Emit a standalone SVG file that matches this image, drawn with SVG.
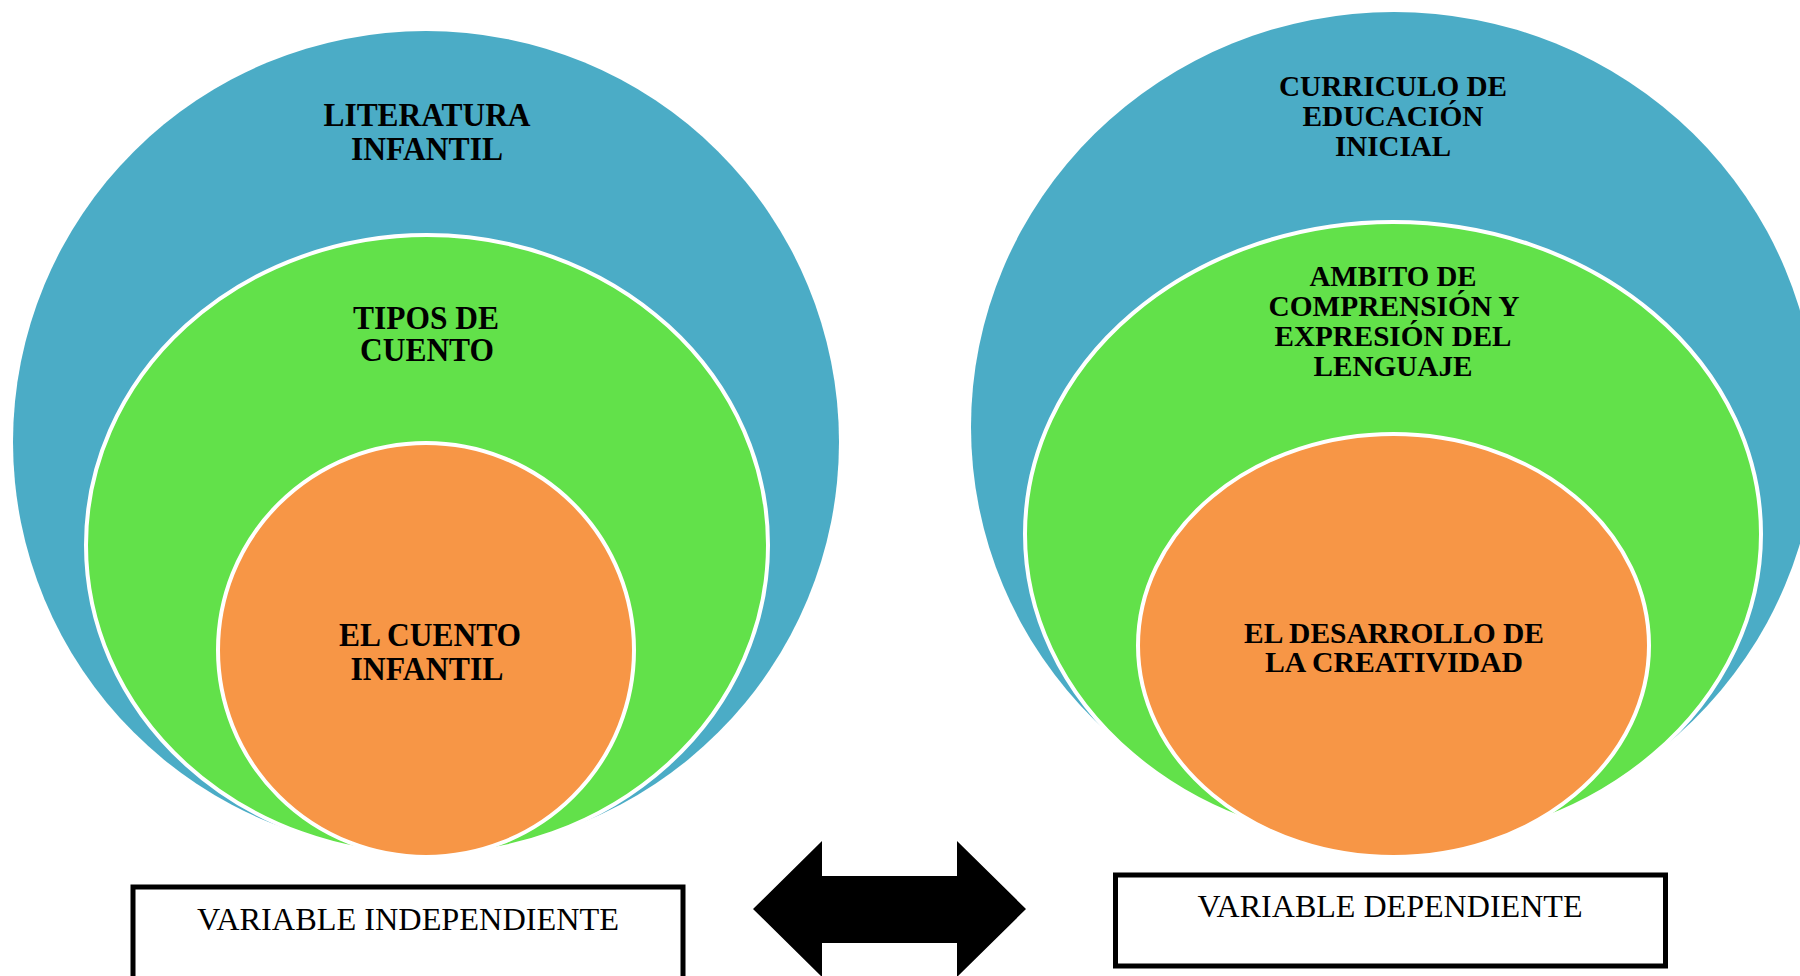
<svg xmlns="http://www.w3.org/2000/svg" width="1800" height="976" viewBox="0 0 1800 976">
<style>
.blue{fill:#4BACC6;}
.green{fill:#62E14A;stroke:#fff;stroke-width:4;}
.orange{fill:#F79646;stroke:#fff;stroke-width:4;}
.lbl{font-family:"Liberation Serif","Times New Roman",serif;font-weight:bold;fill:#000;text-anchor:middle;}
.big{font-size:33px;}
.med{font-size:30px;}
.box{fill:#fff;stroke:#000;stroke-width:5;}
.boxt{font-family:"Liberation Serif","Times New Roman",serif;font-size:32px;fill:#000;text-anchor:middle;}
</style>
<rect width="1800" height="976" fill="#fff"/>
<g id="left-outer">
<ellipse class="blue" cx="426" cy="442" rx="413" ry="411"/>
<text class="lbl big" x="427" y="126" textLength="207" lengthAdjust="spacingAndGlyphs">LITERATURA</text>
<text class="lbl big" x="427" y="160" textLength="152" lengthAdjust="spacingAndGlyphs">INFANTIL</text>
</g>
<g id="left-middle">
<ellipse class="green" cx="427" cy="545" rx="341" ry="310"/>
<text class="lbl big" x="426" y="329" textLength="146" lengthAdjust="spacingAndGlyphs">TIPOS DE</text>
<text class="lbl big" x="427" y="361" textLength="134" lengthAdjust="spacingAndGlyphs">CUENTO</text>
</g>
<g id="left-inner">
<ellipse class="orange" cx="426" cy="650" rx="208" ry="207"/>
<text class="lbl big" x="430" y="646" textLength="182" lengthAdjust="spacingAndGlyphs">EL CUENTO</text>
<text class="lbl big" x="427" y="680" textLength="153" lengthAdjust="spacingAndGlyphs">INFANTIL</text>
</g>
<g id="right-outer">
<ellipse class="blue" cx="1394" cy="427" rx="423" ry="415"/>
<text class="lbl med" x="1393" y="96" textLength="228" lengthAdjust="spacingAndGlyphs">CURRICULO DE</text>
<text class="lbl med" x="1393" y="126" textLength="181" lengthAdjust="spacingAndGlyphs">EDUCACIÓN</text>
<text class="lbl med" x="1393" y="156" textLength="116" lengthAdjust="spacingAndGlyphs">INICIAL</text>
</g>
<g id="right-middle">
<ellipse class="green" cx="1393" cy="534" rx="368" ry="312"/>
<text class="lbl med" x="1393" y="286" textLength="167" lengthAdjust="spacingAndGlyphs">AMBITO DE</text>
<text class="lbl med" x="1394" y="316" textLength="251" lengthAdjust="spacingAndGlyphs">COMPRENSIÓN Y</text>
<text class="lbl med" x="1393" y="346" textLength="237" lengthAdjust="spacingAndGlyphs">EXPRESIÓN DEL</text>
<text class="lbl med" x="1393" y="376" textLength="159" lengthAdjust="spacingAndGlyphs">LENGUAJE</text>
</g>
<g id="right-inner">
<ellipse class="orange" cx="1393.5" cy="645.5" rx="255.5" ry="211.5"/>
<text class="lbl med" x="1394" y="643" textLength="300" lengthAdjust="spacingAndGlyphs">EL DESARROLLO DE</text>
<text class="lbl med" x="1394" y="672" textLength="258" lengthAdjust="spacingAndGlyphs">LA CREATIVIDAD</text>
</g>
<g id="box-independiente">
<rect class="box" x="133" y="887" width="550" height="100"/>
<text class="boxt" x="408" y="930" textLength="422" lengthAdjust="spacingAndGlyphs">VARIABLE INDEPENDIENTE</text>
</g>
<g id="box-dependiente">
<rect class="box" x="1115.5" y="875" width="550" height="91"/>
<text class="boxt" x="1390" y="917" textLength="385" lengthAdjust="spacingAndGlyphs">VARIABLE DEPENDIENTE</text>
</g>
<g id="connectors">
<polygon fill="#000" points="753,909 822,841 822,876 957,876 957,841 1026,909 957,977 957,943 822,943 822,977"/>
</g>
</svg>
